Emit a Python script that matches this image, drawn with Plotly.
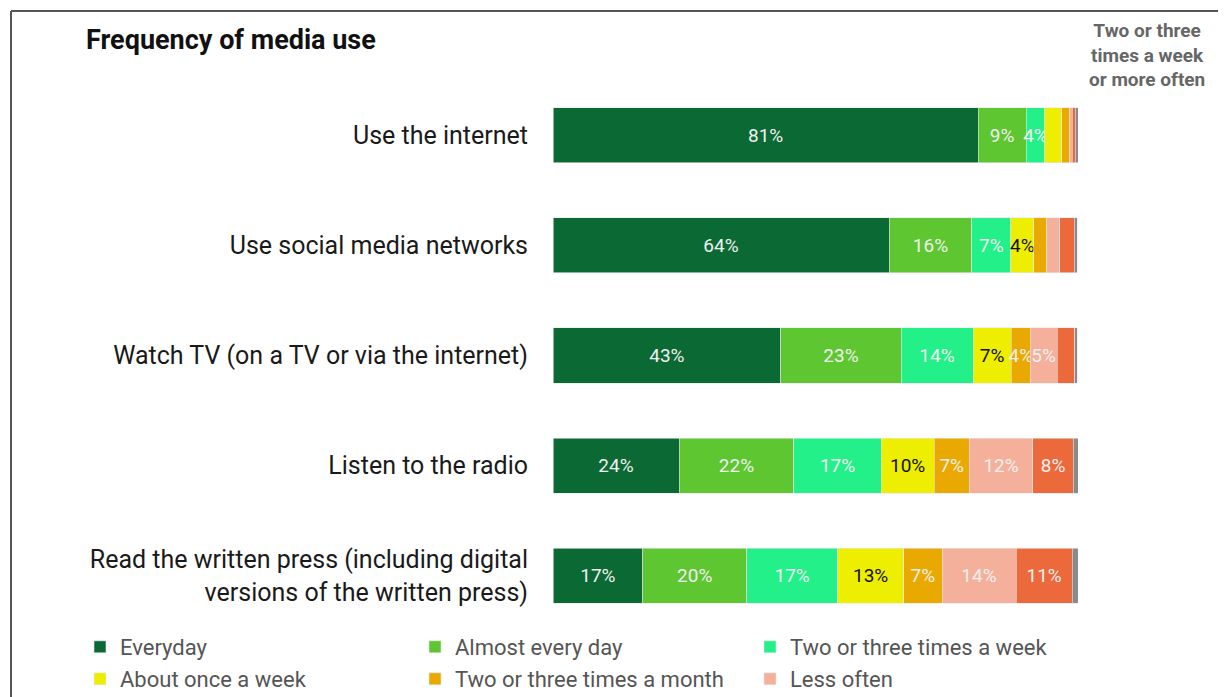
import plotly.graph_objects as go

categories = [
    "Use the internet",
    "Use social media networks",
    "Watch TV (on a TV or via the internet)",
    "Listen to the radio",
    "Read the written press (including digital<br>versions of the written press)",
]

series_names = [
    "Everyday",
    "Almost every day",
    "Two or three times a week",
    "About once a week",
    "Two or three times a month",
    "Less often",
    "Never",
    "Don't know",
]

everyday = [81, 64, 43.4, 24, 17.1]
almost_every_day = [9.1, 15.8, 22.9, 21.9, 19.8]
two_three_week = [3.6, 7.4, 13.7, 16.6, 17.3]
once_week = [3.2, 4.4, 7.3, 10.1, 12.6]
two_three_month = [1.5, 2.4, 3.6, 6.7, 7.3]
less_often = [0.5, 2.5, 5.1, 12.1, 14.1]
never = [0.6, 2.8, 3.4, 7.7, 10.7]
dont_know = [0.5, 0.6, 0.5, 0.9, 1.2]

series_values = [everyday, almost_every_day, two_three_week, once_week,
                 two_three_month, less_often, never, dont_know]

series_colors = ["#0b6934", "#5ec630", "#23f089", "#eeee00",
                 "#eaa900", "#f4b09a", "#ec693c", "#8a8a8a"]
text_colors = ["#f0f0f0", "#f0f0f0", "#f0f0f0", "#111111",
               "#f0f0f0", "#f0f0f0", "#f0f0f0", "#f0f0f0"]
legend_ids = ["legend", "legend", "legend", "legend2", "legend2", "legend2", "legend", "legend"]

weekly_or_more = ["94%", "87%", "78%", "62%", "54%"]

FONT = "Roboto"


def px_x(p):  # page pixel -> paper x
    return (p - 553) / 525


def px_y(p):  # page pixel -> paper y
    return (631 - p) / 551


fig = go.Figure()
for i, (name, vals) in enumerate(zip(series_names, series_values)):
    labels = [f"{int(v + 0.5)}%" if int(v + 0.5) >= 4 else "" for v in vals]
    fig.add_trace(go.Bar(
        y=categories, x=vals, name=name, orientation="h",
        marker=dict(color=series_colors[i], line=dict(color="#e8e8e8", width=0.6)),
        text=labels, textposition="inside", insidetextanchor="middle",
        textangle=0, constraintext="none",
        textfont=dict(family=FONT, size=19, color=text_colors[i]),
        showlegend=i < 6, legend=legend_ids[i], hoverinfo="x+name",
    ))

for cat, txt in zip(categories, weekly_or_more):
    fig.add_annotation(x=112.5, y=cat, xref="x", yref="y", text=f"<b>{txt}</b>",
                       showarrow=False, xanchor="center",
                       font=dict(family=FONT, size=22, color="#8c8c8c"))

fig.add_annotation(x=px_x(1147), y=px_y(55), xref="paper", yref="paper",
                   text="<b>Two or three<br>times a week<br>or more often</b>",
                   showarrow=False, xanchor="center", yanchor="middle", align="center",
                   font=dict(family=FONT, size=19, color="#666666"))

fig.add_annotation(x=px_x(84), y=px_y(40), xref="paper", yref="paper",
                   text="<b>Frequency of media use</b>", showarrow=False,
                   xanchor="left", yanchor="middle",
                   font=dict(family=FONT, size=27, color="#111111"))

# frame
x_left = px_x(11)
y_top = px_y(11)
fig.add_shape(type="line", xref="paper", yref="paper", x0=x_left, x1=1.5, y0=y_top, y1=y_top,
              line=dict(color="#555555", width=2))
fig.add_shape(type="line", xref="paper", yref="paper", x0=x_left, x1=x_left, y0=y_top, y1=-0.5,
              line=dict(color="#555555", width=2))

legend_common = dict(orientation="h", xanchor="left", yanchor="middle",
                     entrywidth=290, entrywidthmode="pixels",
                     font=dict(family=FONT, size=22, color="#555555"),
                     itemwidth=30, traceorder="normal", tracegroupgap=0,
                     bgcolor="rgba(0,0,0,0)")

fig.update_layout(
    barmode="stack",
    bargap=0.5,
    width=1218, height=689,
    margin=dict(l=545, r=148, t=72, b=66, autoexpand=False),
    paper_bgcolor="white", plot_bgcolor="white",
    font=dict(family=FONT, color="#222222"),
    xaxis=dict(range=[0, 100], visible=False, fixedrange=True),
    yaxis=dict(autorange="reversed", showgrid=False, showline=False, ticks="",
               ticklabelstandoff=24,
               tickfont=dict(family=FONT, size=25, color="#1a1a1a")),
    legend=dict(x=px_x(80), y=px_y(647), **legend_common),
    legend2=dict(x=px_x(80), y=px_y(679), **legend_common),
)

fig.write_html("out.html")
